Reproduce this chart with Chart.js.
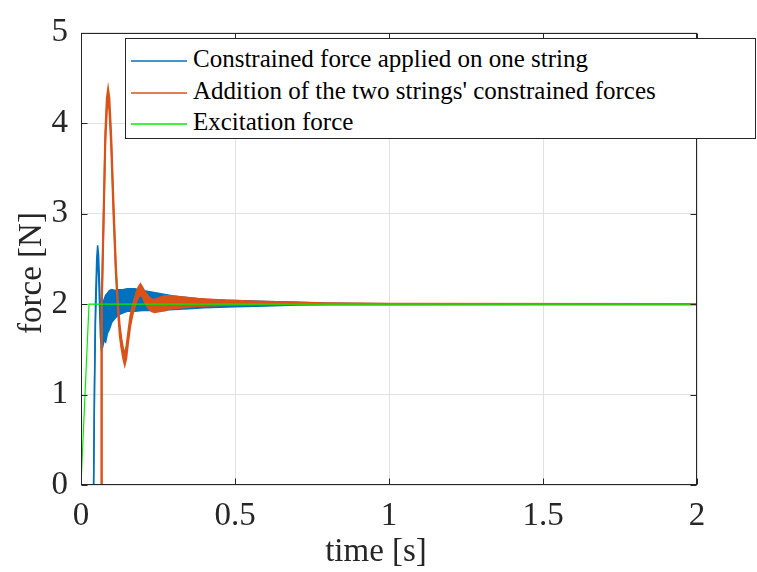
<!DOCTYPE html>
<html>
<head>
<meta charset="utf-8">
<script src="https://cdn.jsdelivr.net/npm/chart.js@4.4.0/dist/chart.umd.min.js"></script>
<style>
  html, body { margin: 0; padding: 0; background: #fff; }
  #wrap { position: relative; width: 757px; height: 572px; }
  #legend {
    position: absolute; left: 125px; top: 38px; width: 631px; height: 101px;
    border: 1px solid #262626; background: #fff; box-sizing: border-box;
    font-family: "Liberation Serif", "Times New Roman", serif; font-size: 25px; color: #000;
  }
  .row { position: absolute; left: 5px; height: 32px; line-height: 32px; white-space: nowrap; }
  .swatch { display: inline-block; width: 56px; height: 2px; vertical-align: middle; margin-right: 6px; opacity: 0.75; }
</style>
</head>
<body>
<div id="wrap">
  <canvas id="force_chart" width="757" height="572"></canvas>
  <div id="legend"></div>
</div>
<script>
// time [s] and force [N]
const tBlue = [0, 0.041, 0.044, 0.047, 0.051, 0.054, 0.057, 0.060, 0.063, 0.066, 0.070, 0.075, 0.080, 0.086, 0.092, 0.100, 0.110, 0.120, 0.135, 0.150, 0.175, 0.200, 0.250, 0.300, 0.350, 0.400, 0.500, 0.600, 0.700, 0.800, 1.000, 2.000]
const blueUpper = [0, 0, 1.2, 2.0, 2.5, 2.65, 2.55, 2.25, 1.95, 1.80, 2.00, 2.05, 2.10, 2.12, 2.15, 2.16, 2.15, 2.16, 2.16, 2.17, 2.17, 2.15, 2.12, 2.09, 2.07, 2.05, 2.04, 2.03, 2.02, 2.01, 2.005, 2.0]
const blueLower = [0, 0, 1.1, 1.8, 2.3, 2.55, 2.35, 2.0, 1.65, 1.50, 1.52, 1.60, 1.58, 1.68, 1.72, 1.80, 1.84, 1.88, 1.90, 1.92, 1.92, 1.93, 1.93, 1.94, 1.95, 1.96, 1.97, 1.98, 1.99, 1.995, 1.995, 2.0]

const tOrange = [0, 0.065, 0.067, 0.074, 0.079, 0.084, 0.088, 0.092, 0.098, 0.106, 0.113, 0.120, 0.126, 0.131, 0.137, 0.142, 0.147, 0.153, 0.160, 0.167, 0.174, 0.180, 0.187, 0.193, 0.200, 0.210, 0.220, 0.230, 0.240, 0.255, 0.273, 0.290, 0.320, 0.380, 0.470, 0.600, 0.800, 1.000, 2.000]
const orangeUpper = [0, 0, 2.0, 3.10, 3.90, 4.28, 4.38, 4.28, 3.87, 3.07, 2.45, 2.00, 1.75, 1.62, 1.50, 1.45, 1.52, 1.68, 1.86, 1.98, 2.06, 2.13, 2.19, 2.22, 2.18, 2.12, 2.08, 2.05, 2.05, 2.07, 2.09, 2.09, 2.08, 2.06, 2.04, 2.025, 2.01, 2.005, 2.0]
const orangeLower = [0, 0, 1.9, 3.00, 3.80, 4.15, 4.25, 4.15, 3.75, 2.95, 2.35, 1.92, 1.65, 1.52, 1.40, 1.33, 1.40, 1.58, 1.76, 1.88, 1.96, 2.03, 2.08, 2.10, 2.08, 2.00, 1.95, 1.92, 1.91, 1.92, 1.93, 1.95, 1.96, 1.98, 1.99, 1.995, 1.995, 1.995, 1.995]

const tExcitation = [0, 0.026, 2]
const excitation = [0, 2, 2]

const seriesNames = [
    "Constrained force applied on one string",
    "Addition of the two strings' constrained forces",
    "Excitation force"
]
const seriesColors = ['#0072BD', '#D95319', '#00EE00']
const xTicks = [0, 0.5, 1, 1.5, 2]
const yTicks = [0, 1, 2, 3, 4, 5]
const xTitle = 'time [s]'
const yTitle = 'force [N]'

const FONT = '"Liberation Serif", "Times New Roman", serif'
const AXIS = '#262626'

function points(t, v)
{
    return t.map((x, i) => ({x: x, y: v[i]}))
}

// MATLAB style box with inward ticks on all four sides, plus axis titles
const boxPlugin = {
    id: 'box',
    afterDatasetsDraw(chart)
    {
        const ctx = chart.ctx
        const a = chart.chartArea
        const xs = chart.scales.x
        const ys = chart.scales.y
        const L = Math.round(a.left) + 0.5, R = Math.round(a.right) - 0.5
        const T = Math.round(a.top) + 0.5, B = Math.round(a.bottom) - 0.5
        ctx.save()
        ctx.strokeStyle = AXIS
        ctx.lineWidth = 1
        ctx.strokeRect(L, T, R - L, B - T)
        ctx.beginPath()
        xTicks.forEach(v => {
            const px = Math.round(xs.getPixelForValue(v)) + 0.5
            ctx.moveTo(px, B); ctx.lineTo(px, B - 6)
            ctx.moveTo(px, T); ctx.lineTo(px, T + 6)
        })
        yTicks.forEach(v => {
            const py = Math.round(ys.getPixelForValue(v)) + 0.5
            ctx.moveTo(L, py); ctx.lineTo(L + 6, py)
            ctx.moveTo(R, py); ctx.lineTo(R - 6, py)
        })
        ctx.stroke()

        ctx.fillStyle = AXIS
        ctx.font = '33px ' + FONT
        ctx.textAlign = 'center'
        ctx.textBaseline = 'middle'
        ctx.fillText(xTitle, 376, 552)
        ctx.translate(32, 273)
        ctx.rotate(-Math.PI / 2)
        ctx.fillText(yTitle, 0, 0)
        ctx.restore()
    }
}

function band(name, t, up, lo, color, w)
{
    return [
        {label: name, data: points(t, up), borderColor: color, borderWidth: w, pointRadius: 0, fill: false},
        {label: name + ' (band)', data: points(t, lo), borderColor: color, borderWidth: w, pointRadius: 0,
         backgroundColor: color, fill: '-1'}
    ]
}

function load_force_chart()
{
    const ctx = document.getElementById('force_chart').getContext('2d')

    const datasets = [
        {label: seriesNames[2], data: points(tExcitation, excitation), borderColor: seriesColors[2], borderWidth: 1.2, pointRadius: 0, fill: false}
    ]
        .concat(band(seriesNames[1], tOrange, orangeUpper, orangeLower, seriesColors[1], 2))
        .concat(band(seriesNames[0], tBlue, blueUpper, blueLower, seriesColors[0], 1.5))

    new Chart(ctx, {
        type: 'line',
        data: {datasets: datasets},
        options: {
            responsive: false,
            animation: false,
            layout: {padding: {top: 22, right: 60, left: 0, bottom: 0}},
            plugins: {legend: {display: false}, tooltip: {enabled: false}},
            elements: {line: {tension: 0}},
            scales: {
                x: {
                    type: 'linear', min: 0, max: 2,
                    afterBuildTicks: s => { s.ticks = xTicks.map(v => ({value: v})) },
                    afterFit: s => { s.height = 87 },
                    grid: {color: '#e2e2e2', drawTicks: false},
                    border: {display: false},
                    ticks: {color: AXIS, padding: 12, font: {family: FONT, size: 33}, callback: v => String(v)}
                },
                y: {
                    type: 'linear', min: 0, max: 5,
                    afterBuildTicks: s => { s.ticks = yTicks.map(v => ({value: v})) },
                    afterFit: s => { s.width = 81 },
                    grid: {color: '#e2e2e2', drawTicks: false},
                    border: {display: false},
                    ticks: {color: AXIS, padding: 13, font: {family: FONT, size: 33}, callback: v => String(v)}
                }
            }
        },
        plugins: [boxPlugin]
    })
}

function load_legend()
{
    const box = document.getElementById('legend')
    const rowTops = [4, 36, 67]
    seriesNames.forEach((name, i) => {
        const row = document.createElement('div')
        row.className = 'row'
        row.style.top = rowTops[i] + 'px'
        const sw = document.createElement('span')
        sw.className = 'swatch'
        sw.style.background = seriesColors[i]
        row.appendChild(sw)
        row.appendChild(document.createTextNode(name))
        box.appendChild(row)
    })
}

function init()
{
    load_force_chart()
    load_legend()
}

init()
</script>
</body>
</html>
